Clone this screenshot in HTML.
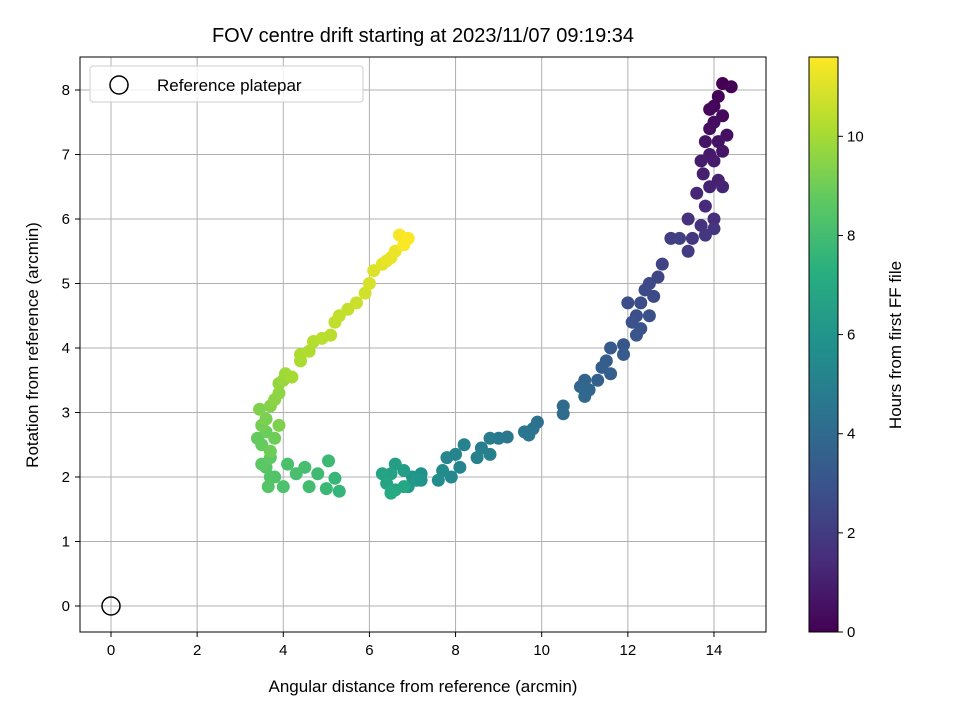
<!DOCTYPE html>
<html><head><meta charset="utf-8"><style>
body{margin:0;background:#fff;}
svg text{font-family:"Liberation Sans",sans-serif;fill:#000;}
</style></head><body>
<svg id="chart" width="960" height="720" xmlns="http://www.w3.org/2000/svg">
<defs>
<linearGradient id="vir" x1="0" y1="1" x2="0" y2="0">
<stop offset="0" stop-color="#440154"/><stop offset="0.125" stop-color="#472d7b"/><stop offset="0.25" stop-color="#3b528b"/><stop offset="0.375" stop-color="#2c728e"/><stop offset="0.5" stop-color="#21918c"/><stop offset="0.625" stop-color="#28ae80"/><stop offset="0.75" stop-color="#5ec962"/><stop offset="0.875" stop-color="#addc30"/><stop offset="1" stop-color="#fde725"/>
</linearGradient>
<clipPath id="clip"><rect x="80" y="57" width="686" height="575"/></clipPath>
</defs>
<g id="grid"></g>
<g id="points" clip-path="url(#clip)"></g>
<circle cx="111" cy="606" r="9" fill="none" stroke="#000" stroke-width="1.5"/>
<rect x="80" y="57" width="686" height="575" fill="none" stroke="#000" stroke-width="1"/>
<g id="ticks"></g>
<text x="423" y="42" font-size="20" text-anchor="middle">FOV centre drift starting at 2023/11/07 09:19:34</text>
<text x="423" y="692" font-size="17" text-anchor="middle">Angular distance from reference (arcmin)</text>
<text transform="translate(38,345) rotate(-90)" font-size="17" text-anchor="middle">Rotation from reference (arcmin)</text>
<g>
<rect x="90" y="66" width="273" height="36" rx="3" fill="#fff" fill-opacity="0.8" stroke="#ccc"/>
<circle cx="119" cy="85" r="9" fill="none" stroke="#000" stroke-width="1.5"/>
<text x="157" y="91" font-size="17">Reference platepar</text>
</g>
<rect x="809" y="57" width="29" height="575" fill="url(#vir)" stroke="#000" stroke-width="1"/>
<g id="cbticks"></g>
<text transform="translate(901,345) rotate(-90)" font-size="17" text-anchor="middle">Hours from first FF file</text>
</svg>
<script>
const xs=[14.2,14.4,14.1,14.0,13.9,14.2,14.0,13.9,14.3,14.1,13.8,14.2,13.9,14.0,13.7,13.75,14.1,13.9,14.2,13.6,13.8,14.0,
13.4,13.7,14.0,13.5,13.8,13.4,13.0,13.2,12.8,12.7,12.5,12.4,12.6,12.3,12.0,12.2,12.5,12.1,12.3,12.2,11.9,11.6,11.9,11.5,11.4,11.6,
11.3,11.0,10.9,11.1,11.0,10.5,10.5,9.9,9.8,9.6,9.7,9.2,9.0,8.8,8.6,8.8,8.5,8.2,8.0,8.1,7.8,7.9,7.7,
7.6,7.2,7.0,6.9,6.8,6.6,6.5,6.3,6.4,6.6,6.5,6.8,7.1,7.2,
5.3,5.2,5.0,5.05,4.8,4.6,4.5,4.3,4.1,4.0,3.8,3.7,3.65,3.6,3.5,3.7,
3.4,3.5,3.6,3.8,3.7,3.5,3.6,3.9,3.45,3.7,3.8,3.9,3.9,4.0,4.05,4.2,
4.4,4.4,4.6,4.7,4.9,5.1,5.2,5.3,5.5,5.7,5.9,6.0,6.1,6.3,6.4,6.5,6.6,6.7,6.9,6.8];
const ys=[8.1,8.05,7.9,7.75,7.7,7.6,7.5,7.4,7.3,7.2,7.2,7.05,7.0,6.9,6.9,6.7,6.6,6.5,6.5,6.4,6.2,6.0,
6.0,5.9,5.85,5.7,5.75,5.5,5.7,5.7,5.3,5.1,5.0,4.9,4.8,4.7,4.7,4.5,4.5,4.4,4.3,4.2,4.05,4.0,3.9,3.8,3.7,3.6,
3.5,3.5,3.4,3.35,3.25,3.1,2.98,2.85,2.75,2.7,2.65,2.62,2.6,2.6,2.45,2.35,2.3,2.5,2.35,2.15,2.3,2.0,2.1,
1.95,2.05,2.0,1.85,2.1,2.2,2.05,2.05,1.9,1.8,1.75,1.85,1.95,1.95,
1.78,1.98,1.82,2.25,2.05,1.85,2.15,2.05,2.2,1.85,2.0,2.0,1.85,2.15,2.2,2.3,
2.6,2.5,2.7,2.6,2.4,2.8,2.9,2.8,3.05,3.1,3.2,3.3,3.45,3.5,3.6,3.55,
3.8,3.9,3.95,4.1,4.15,4.2,4.4,4.5,4.6,4.7,4.85,5.0,5.2,5.3,5.35,5.4,5.5,5.75,5.7,5.6];
const ts=[0,0.05,0.1,0.2,0.25,0.3,0.4,0.45,0.5,0.6,0.65,0.7,0.8,0.85,0.9,1.0,1.05,1.1,1.2,1.3,1.4,1.5,
1.6,1.7,1.75,1.8,1.9,2.0,2.1,2.2,2.3,2.4,2.5,2.55,2.6,2.7,2.75,2.8,2.85,2.9,3.0,3.05,3.1,3.2,3.3,3.4,3.45,3.5,
3.6,3.7,3.8,3.85,3.9,4.0,4.1,4.3,4.4,4.5,4.55,4.6,4.7,4.8,4.9,5.0,5.05,5.1,5.2,5.25,5.3,5.4,5.5,
5.6,5.8,6.0,6.2,6.4,6.5,6.6,6.7,6.8,6.9,7.0,6.9,6.1,6.0,
7.6,7.7,7.8,7.85,7.9,8.0,8.05,8.1,8.2,8.25,8.3,8.4,8.45,8.5,8.6,8.7,
8.8,8.85,8.9,9.0,9.0,9.1,9.2,9.3,9.3,9.4,9.5,9.6,9.7,9.8,9.9,10.0,
10.1,10.15,10.2,10.3,10.35,10.4,10.5,10.55,10.6,10.7,10.8,10.9,11.0,11.1,11.2,11.25,11.3,11.5,11.6,11.55];
const xTicks=[0,2,4,6,8,10,12,14];
const yTicks=[0,1,2,3,4,5,6,7,8];
const cTicks=[0,2,4,6,8,10];
const tMax=11.6;
const NS="http://www.w3.org/2000/svg";
const sx=v=>111+v*43.07, sy=v=>606-v*64.5, sc=v=>632-v*(575/tMax);
const vir=[[68,1,84],[71,45,123],[59,82,139],[44,114,142],[33,145,140],[40,174,128],[94,201,98],[173,220,48],[253,231,37]];
function col(t){let f=Math.max(0,Math.min(1,t/tMax))*8,i=Math.min(7,Math.floor(f)),r=f-i;
 const c=vir[i].map((v,k)=>Math.round(v+(vir[i+1][k]-v)*r));return `rgb(${c})`;}
function mk(tag,at,p){const e=document.createElementNS(NS,tag);for(const k in at)e.setAttribute(k,at[k]);p.appendChild(e);return e;}
const grid=document.getElementById('grid'),tk=document.getElementById('ticks'),pts=document.getElementById('points'),cb=document.getElementById('cbticks');
xTicks.forEach(v=>{const x=sx(v);
 const g=mk('line',{x1:x,x2:x,y1:57,y2:632,stroke:'#b0b0b0','stroke-width':1},grid);
 
 
 mk('line',{x1:x,x2:x,y1:632,y2:637,stroke:'#000'},tk);
 const t=mk('text',{x:x,y:655,'font-size':15,'text-anchor':'middle'},tk);t.textContent=v;
 
 });
yTicks.forEach(v=>{const y=sy(v);
 const g=mk('line',{x1:80,x2:766,y1:y,y2:y,stroke:'#b0b0b0','stroke-width':1},grid);
 
 
 mk('line',{x1:75,x2:80,y1:y,y2:y,stroke:'#000'},tk);
 const t=mk('text',{x:70,y:y+5,'font-size':15,'text-anchor':'end'},tk);t.textContent=v;
 
 });
cTicks.forEach(v=>{const y=sc(v);
 mk('line',{x1:838,x2:843,y1:y,y2:y,stroke:'#000'},cb);
 const t=mk('text',{x:847,y:y+5,'font-size':15},cb);t.textContent=v;
 
 });
xs.forEach((x,i)=>{const c=mk('circle',{cx:sx(x),cy:sy(ys[i]),r:6.5,fill:col(ts[i])},pts);
 
 });
</script>
</body></html>
